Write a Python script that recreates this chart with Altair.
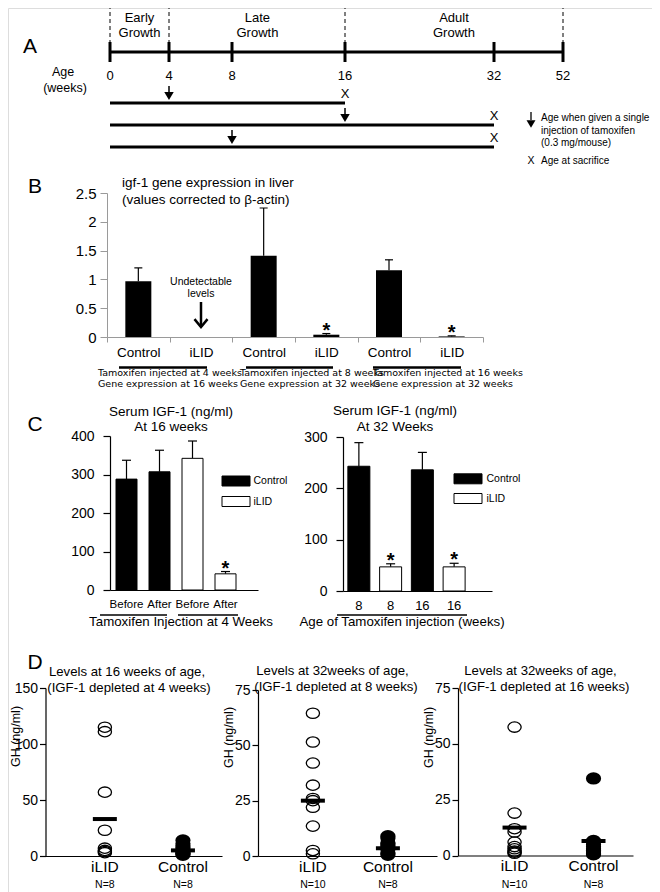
import altair as alt
import pandas as pd

FONT = "Liberation Sans"
W, H = 644, 884
M = 8  # page margin: layout numbers below are page pixels


def P(v):
    return v - M


# ---------------- values ----------------
# Panel A: study design
a_weeks = [0, 4, 8, 16, 32, 52]
a_phase_bounds = [0, 4, 16, 52]
a_phase_labels = ["Early\nGrowth", "Late\nGrowth", "Adult\nGrowth"]
a_phase_mid = [2, 9.8, 27.7]
a_rows = [1, 2, 3]
a_inject = [4, 16, 8]
a_sacrifice = [16, 32, 32]

# Panel B: igf-1 gene expression
b_cats = ["Control 1", "iLID 1", "Control 2", "iLID 2", "Control 3", "iLID 3"]
b_vals = [0.97, 0.0, 1.41, 0.04, 1.16, 0.01]
b_errs = [1.20, 0.0, 2.24, 0.06, 1.34, 0.02]
b_star = [False, False, False, True, False, True]
b_cap1 = ["Tamoxifen injected at 4 weeks", "Tamoxifen injected at 8 weeks", "Tamoxifen injected at 16 weeks"]
b_cap2 = ["Gene expression at 16 weeks", "Gene expression at 32 weeks", "Gene expression at 32 weeks"]

# Panel C: serum IGF-1
c1_cats = ["Before 1", "After 1", "Before 2", "After 2"]
c1_group = ["Control", "Control", "iLID", "iLID"]
c1_vals = [288, 307, 342, 42]
c1_errs = [337, 363, 387, 48]
c1_star = [False, False, False, True]

c2_cats = ["8 1", "8 2", "16 1", "16 2"]
c2_group = ["Control", "iLID", "Control", "iLID"]
c2_vals = [243, 47, 236, 47]
c2_errs = [289, 53, 270, 54]
c2_star = [False, True, False, True]

# Panel D: GH levels
d1_ilid = [115, 111, 57, 23, 7, 5, 4, 3]
d1_ctrl = [14, 11, 8, 6, 4, 3, 2, 1]
d1_mean = [33, 5]
d1_n = ["N=8", "N=8"]

d2_ilid = [64.5, 51.5, 42, 32, 26, 25, 22, 13.5, 2.5, 1]
d2_ctrl = [9, 8, 6, 5, 4, 3, 1.5, 0.5]
d2_mean = [25, 3.5]
d2_n = ["N=10", "N=8"]

d3_ilid = [57.5, 19, 12, 10.5, 6, 4, 3, 2, 1.5, 1]
d3_ctrl = [34.5, 6.5, 5, 4, 3, 2, 1, 0.5]
d3_mean = [12.5, 6.5]
d3_n = ["N=10", "N=8"]


# ---------------- helpers ----------------
def texts(items, size, align="center", baseline="middle", font=FONT, weight="normal"):
    df = pd.DataFrame(items, columns=["px", "py", "t"])
    df["px"] = df["px"] - M
    df["py"] = df["py"] - M
    return alt.Chart(df).mark_text(
        fontSize=size, align=align, baseline=baseline, font=font, fontWeight=weight, color="black"
    ).encode(
        x=alt.X("px:Q", scale=None, axis=None),
        y=alt.Y("py:Q", scale=None, axis=None),
        text="t:N",
    )


def hrules(items, width):
    df = pd.DataFrame(items, columns=["x0", "x1", "py"])
    for c in df.columns:
        df[c] = df[c] - M
    return alt.Chart(df).mark_rule(strokeWidth=width, color="black").encode(
        x=alt.X("x0:Q", scale=None, axis=None),
        x2="x1",
        y=alt.Y("py:Q", scale=None, axis=None),
    )


# ---------------- Panel A ----------------
a_xs = alt.Scale(domain=a_weeks, range=[P(v) for v in (110, 169, 232, 345, 494, 563)], nice=False, zero=False)
a_ys = alt.Scale(domain=[-1, 0, 1, 2, 3], range=[P(v) for v in (5, 52, 103, 125, 147)], nice=False, zero=False)


def ax(f):
    return alt.X(f"{f}:Q", scale=a_xs, axis=None)


def ay(f):
    return alt.Y(f"{f}:Q", scale=a_ys, axis=None)


a_line_df = pd.DataFrame({"x0": [0, 0, 0, 0], "x1": [a_weeks[-1]] + a_sacrifice, "row": [0] + a_rows})
a_tick_df = pd.DataFrame({"w": a_weeks, "row": 0, "lab": [str(w) for w in a_weeks]})
a_dash_df = pd.DataFrame({"w": a_phase_bounds, "top": -1, "base": 0})
a_phase_df = pd.DataFrame({"mid": a_phase_mid, "top": -1, "lab": a_phase_labels})
a_coh_df = pd.DataFrame({"inj": a_inject, "sac": a_sacrifice, "row": a_rows})

panel_a = alt.layer(
    alt.Chart(a_dash_df).mark_rule(strokeDash=[4, 3], strokeWidth=1, color="black").encode(
        x=ax("w"), y=ay("top"), y2="base"),
    alt.Chart(a_line_df).mark_rule(strokeWidth=3, color="black").encode(
        x=ax("x0"), x2="x1", y=ay("row")),
    alt.Chart(a_tick_df).mark_rule(strokeWidth=3, color="black", yOffset=-10, y2Offset=10).encode(
        x=ax("w"), y=ay("row"), y2="row"),
    alt.Chart(a_tick_df).mark_text(font=FONT, fontSize=13, dy=24, color="black").encode(
        x=ax("w"), y=ay("row"), text="lab:N"),
    alt.Chart(a_phase_df).mark_text(font=FONT, fontSize=13, baseline="top", dy=7, lineBreak="\n",
                                    lineHeight=15, color="black").encode(
        x=ax("mid"), y=ay("top"), text="lab:N"),
    alt.Chart(a_coh_df).mark_rule(strokeWidth=1.5, color="black", yOffset=-17, y2Offset=-10).encode(
        x=ax("inj"), y=ay("row"), y2="row"),
    alt.Chart(a_coh_df).mark_point(shape="triangle-down", size=90, filled=True, color="black",
                                   opacity=1, yOffset=-7).encode(x=ax("inj"), y=ay("row")),
    alt.Chart(a_coh_df).mark_text(text="X", font=FONT, fontSize=13, dy=-9, color="black").encode(
        x=ax("sac"), y=ay("row")),
)

# ---------------- Panel B ----------------
b_df = pd.DataFrame({"cat": b_cats, "val": b_vals, "err": b_errs, "star": b_star})
b_xs = alt.Scale(domain=b_cats, range=[P(107), P(483)], paddingInner=0, paddingOuter=0)
b_ys = alt.Scale(domain=[0, 2.5], range=[P(337), P(193)], nice=False, zero=False)
b_xaxis = alt.Axis(orient="bottom", offset=P(337) - H, title=None, labelAngle=0,
                   labelExpr="split(datum.label, ' ')[0]", labelFont=FONT, labelFontSize=13.5,
                   labelColor="black", labelPadding=3, domainColor="#9a9a9a", tickColor="#9a9a9a",
                   tickSize=5, tickBand="extent", grid=False)
b_yaxis = alt.Axis(orient="left", offset=-P(107), values=[0, 0.5, 1, 1.5, 2, 2.5], format="~g",
                   title=None, grid=False, domainColor="#9a9a9a", tickColor="#9a9a9a", tickSize=7,
                   labelFont=FONT, labelFontSize=15, labelColor="black", labelPadding=4)


def bx():
    return alt.X("cat:N", scale=b_xs, sort=b_cats, axis=b_xaxis)


def by(f):
    return alt.Y(f"{f}:Q", scale=b_ys, axis=b_yaxis)


b_err_df = b_df[b_df["err"] > 0]
b_star_df = b_df[b_df["star"]]
b_und_df = pd.DataFrame({"cat": ["iLID 1"], "t1": ["Undetectable"], "t2": ["levels"]})

panel_b = alt.layer(
    alt.Chart(b_df).mark_bar(size=26, color="black", opacity=1).encode(x=bx(), y=by("val")),
    alt.Chart(b_err_df).mark_rule(strokeWidth=1.2, color="black").encode(x=bx(), y=by("val"), y2="err"),
    alt.Chart(b_err_df).mark_tick(orient="horizontal", size=8, thickness=1.2, color="black",
                                  opacity=1).encode(x=bx(), y=by("err")),
    alt.Chart(b_star_df).mark_text(text="*", font=FONT, fontSize=20, fontWeight="bold", dy=3,
                                   baseline="alphabetic", color="black").encode(x=bx(), y=by("err")),
    alt.Chart(b_und_df).mark_text(font=FONT, fontSize=10.5, color="black").encode(
        x=bx(), y=alt.value(P(282)), text="t1:N"),
    alt.Chart(b_und_df).mark_text(font=FONT, fontSize=10.5, color="black").encode(
        x=bx(), y=alt.value(P(294)), text="t2:N"),
    alt.Chart(b_und_df).mark_rule(strokeWidth=2.5, color="black").encode(
        x=bx(), y=alt.value(P(302)), y2=alt.value(P(327))),
    alt.Chart(b_und_df).mark_point(shape="M-1,-0.9L0,0.3L1,-0.9", size=170, filled=False,
                                   strokeWidth=2.5, color="black", opacity=1).encode(
        x=bx(), y=alt.value(P(325))),
)

# ---------------- Panel C ----------------
RECT = "M-1.4,-0.5H1.4V0.5H-1.4Z"


def c_panel(cats, groups, vals, errs, stars, x0, x1, pad_outer, y0, ytop, ymax, yvals,
            bar_size, leg_x, leg_y, lab_off, row_pad, xlab_size):
    df = pd.DataFrame({"cat": cats, "grp": groups, "val": vals, "err": errs, "star": stars})
    xs = alt.Scale(domain=cats, range=[P(x0), P(x1)], paddingInner=0, paddingOuter=pad_outer, align=0)
    ys = alt.Scale(domain=[0, ymax], range=[P(y0), P(ytop)], nice=False, zero=False)
    xaxis = alt.Axis(orient="bottom", offset=P(y0) - H, title=None, labelAngle=0,
                     labelExpr="split(datum.label, ' ')[0]", labelFont=FONT, labelFontSize=xlab_size,
                     labelColor="black", labelPadding=8, ticks=False, tickSize=0,
                     domainColor="black", domainWidth=1.2, grid=False)
    yaxis = alt.Axis(orient="left", offset=-P(x0), values=yvals, title=None, grid=False,
                     domainColor="black", domainWidth=1.2, tickColor="black", tickWidth=1.2,
                     tickSize=7, labelFont=FONT, labelFontSize=14, labelColor="black", labelPadding=9)
    xe = alt.X("cat:N", scale=xs, sort=cats, axis=xaxis)

    def ye(f):
        return alt.Y(f"{f}:Q", scale=ys, axis=yaxis)

    fill = alt.Fill("grp:N", scale=alt.Scale(domain=["Control", "iLID"], range=["black", "white"]),
                    legend=alt.Legend(orient="none", legendX=P(leg_x), legendY=P(leg_y), title=None,
                                      direction="vertical", symbolType=RECT, symbolSize=400,
                                      symbolStrokeColor="black", symbolStrokeWidth=1,
                                      labelFont=FONT, labelFontSize=10.5, labelColor="black",
                                      labelOffset=lab_off, rowPadding=row_pad, padding=0))
    star_df = df[df["star"]]
    return alt.layer(
        alt.Chart(df).mark_rule(strokeWidth=1.2, color="black").encode(x=xe, y=ye("val"), y2="err"),
        alt.Chart(df).mark_tick(orient="horizontal", size=9, thickness=1.2, color="black",
                                opacity=1).encode(x=xe, y=ye("err")),
        alt.Chart(df).mark_bar(size=bar_size, stroke="black", strokeWidth=1, opacity=1).encode(
            x=xe, y=ye("val"), fill=fill),
        alt.Chart(star_df).mark_text(text="*", font=FONT, fontSize=20, fontWeight="bold", dy=3,
                                     baseline="alphabetic", color="black").encode(x=xe, y=ye("err")),
    )


panel_c1 = c_panel(c1_cats, c1_group, c1_vals, c1_errs, c1_star, 110, 258, 0.2424, 590, 436, 400,
                   [0, 100, 200, 300, 400], 21, 217.5 + M, 462.5 + M, 7, 2.5, 11.5)
panel_c2 = c_panel(c2_cats, c2_group, c2_vals, c2_errs, c2_star, 343, 492, 0.3465, 591, 437, 300,
                   [0, 100, 200, 300], 22, 449.5 + M, 460.3 + M, 8, 1.7, 13)

# ---------------- Panel D ----------------
ELLIPSE = "M-1,0A1,0.78,0,1,0,1,0A1,0.78,0,1,0,-1,0Z"


def d_panel(ilid, ctrl, means, ns, ymax, yvals, x0, x1, y0, ytop, pad_outer, align, title_x, title_y):
    dom = ["iLID", "Control"]
    xs = alt.Scale(domain=dom, range=[P(x0), P(x1)], paddingInner=0, paddingOuter=pad_outer, align=align)
    ys = alt.Scale(domain=[0, ymax], range=[P(y0), P(ytop)], nice=False, zero=False)
    xaxis = alt.Axis(orient="bottom", offset=P(y0) - H, title=None, labelAngle=0, labelFont=FONT,
                     labelFontSize=15.5, labelColor="black", labelPadding=3, ticks=False, tickSize=0,
                     domainColor="black", domainWidth=1.2, grid=False)
    yaxis = alt.Axis(orient="left", offset=-P(x0), values=yvals, title="GH (ng/ml)", titleFont=FONT,
                     titleFontSize=12.5, titleFontWeight="normal", titleColor="black",
                     titleX=title_x, titleY=P(title_y), titleBaseline="middle", titleAngle=270,
                     labelFont=FONT, labelFontSize=14, labelColor="black", labelPadding=2,
                     tickSize=6, tickColor="black", tickWidth=1.2, domainColor="black",
                     domainWidth=1.2, grid=False)
    xe = alt.X("grp:N", scale=xs, sort=dom, axis=xaxis)
    ye = alt.Y("val:Q", scale=ys, axis=yaxis)
    i_df = pd.DataFrame({"grp": "iLID", "val": ilid})
    c_df = pd.DataFrame({"grp": "Control", "val": ctrl})
    m_df = pd.DataFrame({"grp": dom, "val": means, "n": ns})
    return alt.layer(
        alt.Chart(i_df).mark_point(shape=ELLIPSE, size=175, filled=False, stroke="black",
                                   strokeWidth=1.3, opacity=1).encode(x=xe, y=ye),
        alt.Chart(c_df).mark_point(shape=ELLIPSE, size=175, filled=True, fill="black",
                                   stroke="black", opacity=1).encode(x=xe, y=ye),
        alt.Chart(m_df).mark_tick(orient="horizontal", size=24, thickness=4, color="black",
                                  opacity=1).encode(x=xe, y=ye),
        alt.Chart(m_df).mark_text(font=FONT, fontSize=10.5, color="black").encode(
            x=xe, y=alt.value(P(885)), text="n:N"),
    )


panel_d1 = d_panel(d1_ilid, d1_ctrl, d1_mean, d1_n, 150, [0, 50, 100, 150], 45.5, 222, 856, 688,
                   0.13, 1, -30.5, 736)
panel_d2 = d_panel(d2_ilid, d2_ctrl, d2_mean, d2_n, 75, [0, 25, 50, 75], 258, 437, 856, 690,
                   0.193, 0.6, -30, 737)
panel_d3 = d_panel(d3_ilid, d3_ctrl, d3_mean, d3_n, 75, [0, 25, 50, 75], 458, 633, 855.5, 688,
                   0.108, 1, -30, 737)

# ---------------- annotations ----------------
letters = texts([(30, 47, "A"), (35, 187, "B"), (35, 425, "C"), (35, 663, "D")], 21)
a_texts = texts([(63, 72, "Age"), (65, 88, "(weeks)")], 12.5)
a_legend = texts([(541, 118, "Age when given a single"), (541, 130.5, "injection of tamoxifen"),
                  (541, 143, "(0.3 mg/mouse)"), (541, 161, "Age at sacrifice")], 10, align="left")
a_legend_x = texts([(531, 161, "X")], 10.5)
leg_arrow_df = pd.DataFrame({"px": [P(531)], "py0": [P(112)], "py1": [P(120)], "pt": [P(124)]})
a_legend_arrow = alt.layer(
    alt.Chart(leg_arrow_df).mark_rule(strokeWidth=1.3, color="black").encode(
        x=alt.X("px:Q", scale=None, axis=None), y=alt.Y("py0:Q", scale=None, axis=None), y2="py1"),
    alt.Chart(leg_arrow_df).mark_point(shape="triangle-down", size=80, filled=True, color="black",
                                       opacity=1).encode(
        x=alt.X("px:Q", scale=None, axis=None), y=alt.Y("pt:Q", scale=None, axis=None)),
)
b_title = texts([(122, 183, "igf-1 gene expression in liver"),
                 (122, 199.5, "(values corrected to \u03b2-actin)")], 13.5, align="left")
b_caps = texts([(x, 373, t) for x, t in zip((98, 240, 373), b_cap1)] +
               [(x, 383.5, t) for x, t in zip((98, 240, 373), b_cap2)],
               9.5, align="left", font="DejaVu Sans")
b_lines = hrules([(119, 207, 367.5), (246, 333, 367.5), (373, 461, 367.5)], 2.5)
c_titles = texts([(171, 411.5, "Serum IGF-1 (ng/ml)"), (171, 427, "At 16 weeks"),
                  (395, 411, "Serum  IGF-1 (ng/ml)"), (395, 426.5, "At 32 Weeks")], 13.5)
c_caps = texts([(181, 622, "Tamoxifen Injection at 4 Weeks"),
                (402, 622, "Age of Tamoxifen injection (weeks)")], 13.3)
c_lines = hrules([(100, 167, 615), (178, 238, 615), (337, 467, 615)], 1.5)
d_titles = texts([(127, 671.5, "Levels at 16 weeks of age,"), (129, 688, "(IGF-1 depleted at 4 weeks)"),
                  (332.5, 671, "Levels at 32weeks of age,"), (336, 687, "(IGF-1 depleted at 8 weeks)"),
                  (540.5, 671, "Levels at 32weeks of age,"), (544, 687, "(IGF-1 depleted at 16 weeks)")],
                 13.2)

annotations = alt.layer(letters, a_texts, a_legend, a_legend_x, a_legend_arrow, b_title, b_caps,
                        b_lines, c_titles, c_caps, c_lines, d_titles)

chart = alt.layer(
    panel_a, panel_b, panel_c1, panel_c2, panel_d1, panel_d2, panel_d3, annotations
).resolve_scale(
    x="independent", y="independent", fill="independent"
).properties(
    width=W, height=H, padding=0, autosize=alt.AutoSizeParams(type="none")
).configure_view(stroke=None).configure(background="white")

chart.save("out.html", embed_options={"renderer": "svg", "actions": False})
